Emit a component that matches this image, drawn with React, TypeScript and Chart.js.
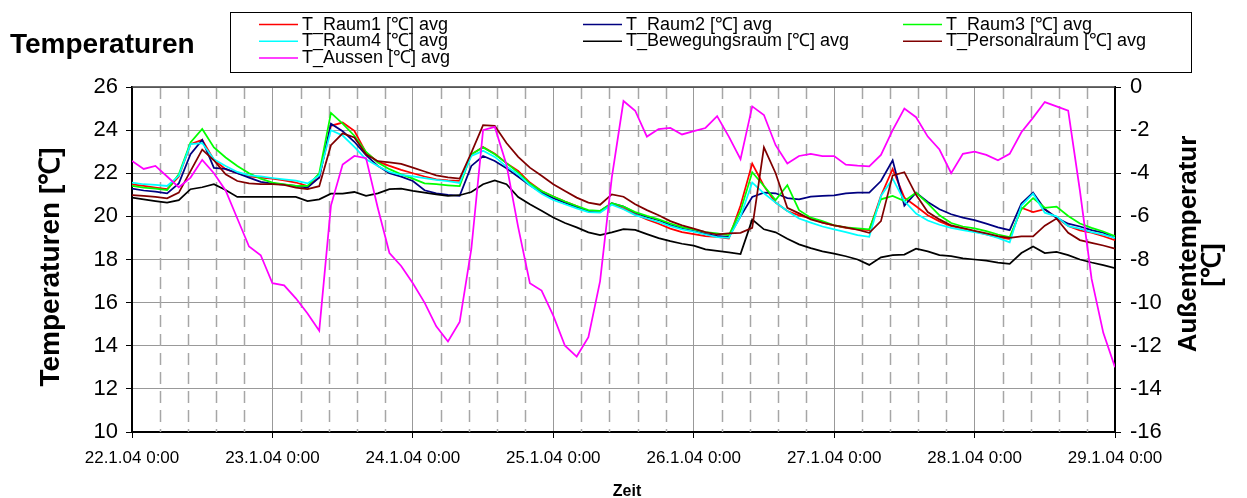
import React, { useEffect, useRef } from 'react';
import { Chart, registerables } from 'chart.js';

Chart.register(...registerables);

// time axis: hours since 22.1.04 0:00, sampled every 2 hours
const hours = Array.from({ length: 85 }, (_, i) => i * 2);
const dayLabels = ['22.1.04 0:00', '23.1.04 0:00', '24.1.04 0:00', '25.1.04 0:00', '26.1.04 0:00', '27.1.04 0:00', '28.1.04 0:00', '29.1.04 0:00'];

const seriesNames = [
  'T_Raum1 [℃] avg',
  'T_Raum2 [℃] avg',
  'T_Raum3 [℃] avg',
  'T_Raum4 [℃] avg',
  'T_Bewegungsraum [℃] avg',
  'T_Personalraum [℃] avg',
  'T_Aussen [℃] avg',
];
const seriesColors = ['#ff0000', '#000080', '#00ff00', '#00ffff', '#000000', '#800000', '#ff00ff'];

const raum1 = [
  21.49, 21.41, 21.33, 21.26, 21.85, 23.35, 23.55, 22.62, 22.19, 22.0,
  21.85, 21.8, 21.75, 21.67, 21.57, 21.41, 21.8, 24.2, 24.35, 23.97,
  22.96, 22.54, 22.34, 22.16, 22.0, 21.85, 21.72, 21.67, 21.65, 22.88,
  23.22, 22.91, 22.47, 22.11, 21.57, 21.18, 20.92, 20.69, 20.48, 20.25,
  20.2, 20.59, 20.36, 20.1, 19.86, 19.66, 19.43, 19.27, 19.18, 19.08,
  19.05, 18.97, 20.5, 22.45, 21.41, 20.64, 20.25, 20.05, 19.9, 19.71,
  19.58, 19.47, 19.4, 19.36, 20.95, 22.2, 20.87, 20.47, 20.05, 19.77,
  19.55, 19.43, 19.3, 19.16, 19.04, 18.95, 20.4, 20.2, 20.33, 19.94,
  19.55, 19.35, 19.24, 19.08, 18.9,
];
const raum2 = [
  21.29, 21.2, 21.15, 21.07, 21.53, 22.88, 23.55, 22.25, 22.2, 22.0,
  21.8, 21.6, 21.52, 21.47, 21.41, 21.33, 21.8, 24.3, 23.95, 23.46,
  22.84, 22.34, 22.0, 21.84, 21.64, 21.21, 21.07, 21.0, 20.95, 22.34,
  22.8, 22.57, 22.23, 21.84, 21.44, 21.1, 20.84, 20.64, 20.43, 20.25,
  20.25, 20.61, 20.46, 20.17, 19.97, 19.83, 19.6, 19.43, 19.32, 19.19,
  19.1, 19.05, 20.0, 20.9, 21.1, 21.07, 20.85, 20.79, 20.92, 20.95,
  20.97, 21.07, 21.1, 21.1, 21.64, 22.6, 20.5, 21.1, 20.67, 20.33,
  20.1, 19.94, 19.83, 19.66, 19.49, 19.36, 20.6, 21.1, 20.33, 19.94,
  19.66, 19.53, 19.36, 19.24, 19.0,
];
const raum3 = [
  21.41, 21.33, 21.29, 21.22, 21.95, 23.43, 24.05, 23.2, 22.73, 22.34,
  22.0, 21.75, 21.57, 21.49, 21.41, 21.41, 22.0, 24.8, 24.3, 23.74,
  22.99, 22.5, 22.19, 21.95, 21.75, 21.53, 21.49, 21.44, 21.4, 22.88,
  23.2, 22.88, 22.47, 22.03, 21.52, 21.18, 20.92, 20.69, 20.48, 20.29,
  20.25, 20.61, 20.46, 20.2, 20.02, 19.86, 19.67, 19.5, 19.4, 19.27,
  19.21, 19.12, 20.25, 22.05, 21.41, 20.76, 21.45, 20.29, 19.94, 19.78,
  19.58, 19.49, 19.44, 19.4, 20.79, 20.95, 20.71, 21.1, 20.6, 20.05,
  19.69, 19.53, 19.44, 19.32, 19.16, 19.04, 20.33, 20.85, 20.4, 20.45,
  20.02, 19.67, 19.47, 19.3, 19.08,
];
const raum4 = [
  21.57, 21.49, 21.46, 21.41, 21.88, 23.35, 23.4, 22.65, 22.34, 22.06,
  21.9, 21.85, 21.78, 21.72, 21.66, 21.53, 21.9, 24.0, 23.75, 23.22,
  22.65, 22.34, 22.06, 21.92, 21.85, 21.77, 21.69, 21.63, 21.55, 22.8,
  23.04, 22.76, 22.31, 21.95, 21.44, 21.05, 20.76, 20.56, 20.37, 20.2,
  20.17, 20.54, 20.33, 20.06, 19.9, 19.74, 19.55, 19.4, 19.29, 19.16,
  19.04, 19.0, 20.0, 21.57, 21.07, 20.64, 20.25, 19.9, 19.71, 19.53,
  19.4, 19.27, 19.13, 19.05, 20.95, 21.75, 20.71, 20.13, 19.81, 19.61,
  19.47, 19.36, 19.27, 19.16, 19.0, 18.8, 20.5, 21.05, 20.17, 20.0,
  19.55, 19.43, 19.27, 19.15, 19.0,
];
const bewegungsraum = [
  20.87, 20.79, 20.71, 20.64, 20.75, 21.26, 21.35, 21.49, 21.22, 20.9,
  20.9, 20.9, 20.9, 20.9, 20.9, 20.71, 20.79, 21.05, 21.05, 21.13,
  20.95, 21.07, 21.26, 21.29, 21.18, 21.1, 21.02, 20.95, 20.98, 21.13,
  21.49, 21.67, 21.49, 20.9, 20.56, 20.26, 19.95, 19.69, 19.49, 19.26,
  19.13, 19.26, 19.41, 19.37, 19.18, 18.99, 18.85, 18.73, 18.64, 18.47,
  18.4, 18.33, 18.25, 19.85, 19.4, 19.26, 18.96, 18.7, 18.53, 18.38,
  18.27, 18.15, 18.0, 17.75, 18.1, 18.2, 18.23, 18.5, 18.38, 18.2,
  18.16, 18.05, 18.0, 17.95, 17.86, 17.8, 18.3, 18.6, 18.3, 18.35,
  18.2, 18.0, 17.86, 17.74, 17.6,
];
const personalraum = [
  20.98, 20.95, 20.9, 20.84, 21.1, 22.1, 23.1, 22.6, 21.95, 21.64,
  21.53, 21.49, 21.49, 21.46, 21.33, 21.26, 21.4, 23.3, 23.85, 23.66,
  22.88, 22.56, 22.5, 22.43, 22.26, 22.08, 21.9, 21.81, 21.75, 22.96,
  24.23, 24.2, 23.4, 22.76, 22.26, 21.88, 21.49, 21.18, 20.87, 20.64,
  20.54, 21.02, 20.91, 20.56, 20.29, 20.05, 19.78, 19.58, 19.43, 19.27,
  19.16, 19.21, 19.24, 19.47, 23.2, 22.0, 20.4, 20.14, 19.86, 19.71,
  19.58, 19.49, 19.38, 19.24, 19.78, 21.9, 22.05, 21.0, 20.2, 19.86,
  19.58, 19.46, 19.33, 19.21, 19.08, 19.0, 19.07, 19.07, 19.57, 19.9,
  19.24, 18.9, 18.77, 18.65, 18.5,
];
const aussen = [
  -3.43, -3.8, -3.66, -4.15, -4.65, -4.2, -3.38, -4.0, -4.8, -6.1,
  -7.4, -7.8, -9.1, -9.2, -9.8, -10.5, -11.3, -5.5, -3.6, -3.2,
  -3.3, -5.6, -7.7, -8.3, -9.1, -10.0, -11.1, -11.8, -10.9, -7.5,
  -2.0, -1.85, -3.6, -6.5, -9.1, -9.44, -10.6, -12.0, -12.5, -11.6,
  -9.0, -4.2, -0.65, -1.1, -2.3, -1.95, -1.9, -2.2, -2.05, -1.9,
  -1.35, -2.3, -3.35, -0.9, -1.3, -2.7, -3.55, -3.2, -3.1, -3.2,
  -3.2, -3.6, -3.65, -3.68, -3.15, -2.0, -1.0, -1.4, -2.3, -2.9,
  -4.0, -3.1, -3.0, -3.15, -3.4, -3.1, -2.1, -1.42, -0.7, -0.9,
  -1.1, -4.8, -8.9, -11.4, -13.0,
];

const FONT = '"Liberation Sans", Arial, Helvetica, sans-serif';

export default function App() {
  const ref = useRef<HTMLCanvasElement>(null);

  useEffect(() => {
    document.body.style.margin = '0';
    const canvas = ref.current;
    if (!canvas) return;
    const valuesList = [raum1, raum2, raum3, raum4, bewegungsraum, personalraum, aussen];
    const datasets = valuesList.map((vals, i) => ({
      label: seriesNames[i],
      data: hours.map((h, j) => ({ x: h, y: vals[j] })),
      borderColor: seriesColors[i],
      backgroundColor: seriesColors[i],
      borderWidth: 1.75,
      pointRadius: 0,
      pointHoverRadius: 0,
      tension: 0,
      fill: false,
      yAxisID: i === 6 ? 'y2' : 'y',
      order: 6 - i,
    }));

    const decor = {
      id: 'decor',
      beforeDatasetsDraw(chart: any) {
        const { ctx, chartArea: a, scales } = chart;
        const xs = scales.x;
        ctx.save();
        ctx.strokeStyle = '#a6a6a6';
        ctx.lineWidth = 1.5;
        ctx.setLineDash([12, 7]);
        for (let k = 1; k < 35; k++) {
          if (k % 5 === 0) continue;
          const x = Math.round(xs.getPixelForValue(k * 4.8)) + 0.5;
          ctx.beginPath();
          ctx.moveTo(x, a.top);
          ctx.lineTo(x, a.bottom);
          ctx.stroke();
        }
        ctx.setLineDash([]);
        ctx.strokeStyle = '#404040';
        ctx.lineWidth = 1.5;
        ctx.beginPath();
        ctx.moveTo(a.left, a.top);
        ctx.lineTo(a.right, a.top);
        ctx.stroke();
        ctx.restore();
      },
      afterDraw(chart: any) {
        const { ctx } = chart;
        ctx.save();
        ctx.fillStyle = '#000';
        // chart title
        ctx.font = `bold 28px ${FONT}`;
        ctx.textAlign = 'left';
        ctx.textBaseline = 'alphabetic';
        ctx.fillText('Temperaturen', 10, 53);
        // legend box
        ctx.strokeStyle = '#000';
        ctx.lineWidth = 1;
        ctx.strokeRect(230.5, 12.5, 961, 60);
        const colX = [259, 583, 903];
        const rowY = [29.5, 46.2, 63];
        ctx.font = `18px ${FONT}`;
        seriesNames.forEach((name, i) => {
          const cx = colX[i % 3];
          const by = rowY[Math.floor(i / 3)];
          ctx.strokeStyle = seriesColors[i];
          ctx.lineWidth = 1.5;
          ctx.beginPath();
          ctx.moveTo(cx, by - 5);
          ctx.lineTo(cx + 39, by - 5);
          ctx.stroke();
          ctx.fillStyle = '#000';
          ctx.fillText(name, cx + 43, by);
        });
        // axis titles
        ctx.textAlign = 'center';
        ctx.textBaseline = 'middle';
        ctx.font = `bold 28px ${FONT}`;
        ctx.save();
        ctx.translate(51, 267);
        ctx.rotate(-Math.PI / 2);
        ctx.fillText('Temperaturen [℃]', 0, 0);
        ctx.restore();
        ctx.font = `bold 26px ${FONT}`;
        ctx.save();
        ctx.translate(1189, 244);
        ctx.rotate(-Math.PI / 2);
        ctx.fillText('Außentemperatur', 0, 0);
        ctx.restore();
        ctx.save();
        ctx.translate(1213, 265);
        ctx.rotate(-Math.PI / 2);
        ctx.fillText('[℃]', 0, 0);
        ctx.restore();
        ctx.font = `bold 16px ${FONT}`;
        ctx.textBaseline = 'alphabetic';
        ctx.fillText('Zeit', 627, 496);
        ctx.restore();
      },
    };

    const chart = new Chart(canvas, {
      type: 'line',
      data: { datasets },
      options: {
        responsive: false,
        animation: false,
        events: [],
        layout: { padding: { top: 87, left: 0, right: 0, bottom: 0 } },
        plugins: { legend: { display: false }, tooltip: { enabled: false }, title: { display: false } },
        scales: {
          x: {
            type: 'linear',
            min: 0,
            max: 168,
            ticks: {
              stepSize: 24,
              autoSkip: false,
              maxRotation: 0,
              minRotation: 0,
              color: '#000',
              padding: 10,
              font: { family: FONT, size: 17 },
              callback: (v: any) => dayLabels[Math.round(Number(v) / 24)] ?? '',
            },
            grid: { color: '#999999', lineWidth: 1, tickLength: 6, tickColor: '#000', tickWidth: 1 },
            border: { color: '#000', width: 2 },
            afterFit: (s: any) => { s.height = 66; },
          },
          y: {
            position: 'left',
            min: 10,
            max: 26,
            ticks: { stepSize: 2, color: '#000', padding: 8, font: { family: FONT, size: 22 } },
            grid: { color: '#999999', lineWidth: 1, tickLength: 6, tickColor: '#000', tickWidth: 1 },
            border: { color: '#000', width: 2 },
            afterFit: (s: any) => { s.width = 132; },
          },
          y2: {
            position: 'right',
            min: -16,
            max: 0,
            ticks: { stepSize: 2, color: '#000', padding: 9, font: { family: FONT, size: 22 } },
            grid: { drawOnChartArea: false, tickLength: 6, tickColor: '#000', tickWidth: 1 },
            border: { color: '#000', width: 2 },
            afterFit: (s: any) => { s.width = 132; },
          },
        },
      },
      plugins: [decor],
    });
    return () => chart.destroy();
  }, []);

  return (
    <div style={{ width: 1247, height: 498, background: '#fff' }}>
      <canvas ref={ref} width={1247} height={498} />
    </div>
  );
}
